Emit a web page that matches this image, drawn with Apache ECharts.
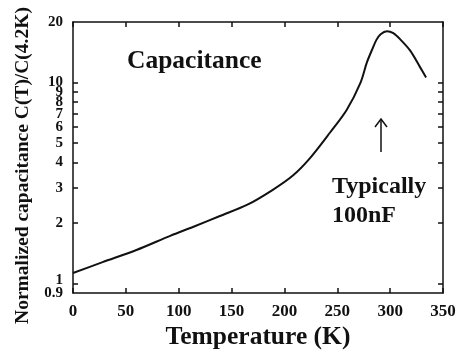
<!DOCTYPE html>
<html>
<head>
<meta charset="utf-8">
<script src="https://cdn.jsdelivr.net/npm/echarts@6/dist/echarts.min.js"></script>
<style>
  html, body { margin: 0; padding: 0; background: #fff; }
  #chart { width: 459px; height: 358px; }
</style>
</head>
<body>
<div id="chart"></div>
<script>
// temperature (K) and normalized capacitance
const temperature = [0, 28, 60, 92, 114, 139, 165, 189, 208, 224, 243, 259, 272, 278, 283, 287, 291, 297, 303, 310, 319, 328, 334];
const capacitance = [1.13, 1.28, 1.47, 1.73, 1.92, 2.17, 2.47, 2.93, 3.45, 4.2, 5.63, 7.33, 10.0, 12.6, 14.6, 16.3, 17.4, 18.0, 17.6, 16.3, 14.4, 12.0, 10.6];

const xTicks = [0, 50, 100, 150, 200, 250, 300, 350];
const yTickValues = [1, 2, 3, 4, 5, 6, 7, 8, 9, 10];
const yLabelValues = [1, 2, 3, 4, 5, 6, 7, 8, 9, 10, 20];
// 0.9 sits right under 1, so it gets its own label-only axis
const yMinLabel = [0.9];

const serif = '"Liberation Serif", "DejaVu Serif", serif';
const ink = '#111';

const chart = echarts.init(document.getElementById('chart'));

const lineStyle = { color: ink, width: 1.5 };
const tickStyle = { show: true, inside: true, length: 5, lineStyle: { color: ink, width: 1.5 } };
const labelFont = { fontFamily: serif, fontWeight: 'bold', color: ink };

const option = {
  animation: false,
  backgroundColor: '#fff',
  grid: { left: 73, right: 16, top: 22, bottom: 65 },
  xAxis: [
    {
      type: 'value',
      position: 'bottom',
      min: 0,
      max: 350,
      interval: 50,
      name: 'Temperature (K)',
      nameLocation: 'middle',
      nameGap: 28,
      nameTextStyle: Object.assign({ fontSize: 25.5 }, labelFont),
      axisLine: { onZero: false, lineStyle: lineStyle },
      axisTick: tickStyle,
      axisLabel: Object.assign({ margin: 10, fontSize: 17, customValues: xTicks }, labelFont),
      splitLine: { show: false }
    },
    {
      type: 'value',
      position: 'top',
      min: 0,
      max: 350,
      interval: 50,
      axisLine: { onZero: false, lineStyle: lineStyle },
      axisTick: tickStyle,
      axisLabel: { show: false },
      splitLine: { show: false }
    }
  ],
  yAxis: [
    {
      type: 'log',
      logBase: 10,
      position: 'left',
      min: 0.899,
      max: 20,
      name: 'Normalized capacitance C(T)/C(4.2K)',
      nameLocation: 'middle',
      nameGap: 40,
      nameTextStyle: Object.assign({ fontSize: 19.5, padding: [0, 16, 0, 0] }, labelFont),
      axisLine: { onZero: false, lineStyle: lineStyle },
      axisTick: Object.assign({ customValues: yTickValues }, tickStyle),
      axisLabel: Object.assign({
        margin: 10,
        fontSize: 15,
        customValues: yLabelValues,
        // nudge "1" up a little so it clears "0.9"
        formatter: v => (v === 1 ? '{up|1}' : String(v)),
        rich: { up: Object.assign({ fontSize: 15, padding: [0, 0, 8, 0] }, labelFont) }
      }, labelFont),
      minorTick: { show: false },
      splitLine: { show: false }
    },
    {
      type: 'log',
      logBase: 10,
      position: 'right',
      min: 0.899,
      max: 20,
      axisLine: { onZero: false, lineStyle: lineStyle },
      axisTick: Object.assign({ customValues: yTickValues }, tickStyle),
      axisLabel: { show: false },
      splitLine: { show: false }
    },
    {
      type: 'log',
      logBase: 10,
      position: 'left',
      offset: 0,
      min: 0.899,
      max: 20,
      axisLine: { show: false, onZero: false },
      axisTick: { show: false },
      axisLabel: Object.assign({ margin: 10, fontSize: 15, padding: [0, 0, 4, 0], customValues: yMinLabel }, labelFont),
      splitLine: { show: false }
    }
  ],
  graphic: [
    {
      type: 'text',
      left: 127,
      top: 48,
      style: { text: 'Capacitance', font: 'bold 25.5px ' + serif, fill: ink }
    },
    {
      type: 'line',
      shape: { x1: 381, y1: 119, x2: 381, y2: 152 },
      style: { stroke: ink, lineWidth: 1.5 }
    },
    {
      type: 'polyline',
      shape: { points: [[375, 127], [381, 119], [387, 127]] },
      style: { stroke: ink, lineWidth: 1.5, fill: null }
    },
    {
      type: 'text',
      left: 332,
      top: 172,
      style: { text: 'Typically\n100nF', font: 'bold 24px ' + serif, fill: ink, lineHeight: 29 }
    }
  ],
  series: [
    {
      type: 'line',
      xAxisIndex: 0,
      yAxisIndex: 0,
      data: temperature.map((t, i) => [t, capacitance[i]]),
      smooth: 0.3,
      showSymbol: false,
      lineStyle: { color: ink, width: 2 }
    }
  ]
};

chart.setOption(option);
</script>
</body>
</html>
